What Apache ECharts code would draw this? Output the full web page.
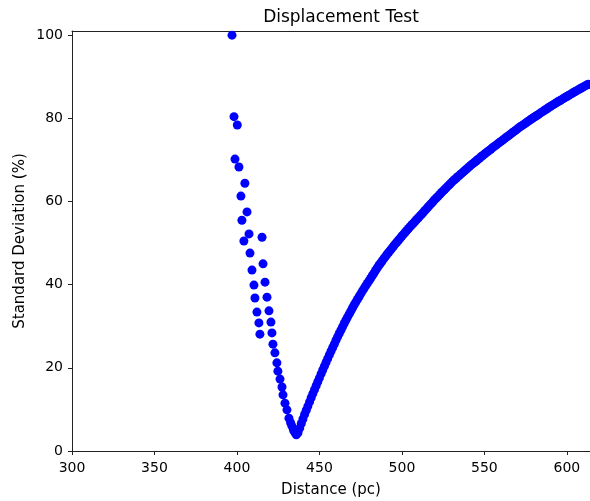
<!DOCTYPE html>
<html>
<head>
<meta charset="utf-8">
<script src="https://cdn.jsdelivr.net/npm/echarts@6/dist/echarts.min.js"></script>
<style>
html,body{margin:0;padding:0;background:#fff;}
#chart{width:590px;height:501px;}
</style>
</head>
<body>
<div id="chart"></div>
<script>
// Left (scattered) branch
var leftDist = [397.0, 398.2, 400.2, 398.8, 401.2, 404.8, 402.4, 406.1, 403.0, 407.3, 404.2, 415.2, 407.9, 415.8, 409.1, 417.0, 410.3, 418.2, 410.9, 419.4, 412.1, 420.6, 413.3, 421.2, 413.9, 421.8, 423.0, 424.2, 424.8, 426.1, 427.3, 427.9, 429.1, 430.3, 431.5, 432.5, 433.3, 434.3, 435.2, 436.0];
var leftStd  = [100.0, 80.4, 78.4, 70.2, 68.3, 64.4, 61.3, 57.5, 55.5, 52.2, 50.5, 51.4, 47.6, 45.0, 43.5, 40.6, 39.9, 37.0, 36.8, 33.7, 33.4, 31.0, 30.8, 28.4, 28.1, 25.7, 23.6, 21.2, 19.2, 17.3, 15.4, 13.5, 11.5, 9.9, 7.9, 6.8, 6.0, 5.0, 4.4, 3.9];

// Right (dense) branch
var rightDist = [437,438,439,440,441,442,443,444,445,446,447,448,449,450,451,452,453,454,455,456,457,458,459,460,461,462,463,464,465,466,467,468,469,470,471,472,473,474,475,476,477,478,479,480,481,482,483,484,485,486,487,488,489,490,491,492,493,494,495,496,497,498,499,500,501,502,503,504,505,506,507,508,509,510,511,512,513,514,515,516,517,518,519,520,521,522,523,524,525,526,527,528,529,530,531,532,533,534,535,536,537,538,539,540,541,542,543,544,545,546,547,548,549,550,551,552,553,554,555,556,557,558,559,560,561,562,563,564,565,566,567,568,569,570,571,572,573,574,575,576,577,578,579,580,581,582,583,584,585,586,587,588,589,590,591,592,593,594,595,596,597,598,599,600,601,602,603,604,605,606,607,608,609,610,611,612,613];
var rightStd = [4.4,5.5,6.6,7.7,8.8,9.8,10.8,11.8,12.8,13.8,14.75,15.7,16.65,17.6,18.55,19.47,20.4,21.3,22.2,23.1,24.0,24.85,25.7,26.6,27.45,28.25,29.05,29.85,30.65,31.45,32.2,32.9,33.65,34.4,35.1,35.8,36.45,37.1,37.8,38.45,39.05,39.7,40.3,40.9,41.5,42.15,42.75,43.4,44.0,44.6,45.15,45.7,46.25,46.75,47.3,47.8,48.3,48.8,49.3,49.8,50.25,50.75,51.2,51.7,52.15,52.6,53.05,53.5,53.95,54.4,54.8,55.25,55.7,56.1,56.55,56.95,57.4,57.85,58.3,58.75,59.2,59.6,60.05,60.5,60.9,61.3,61.7,62.15,62.55,62.95,63.35,63.75,64.15,64.55,64.95,65.3,65.65,66.0,66.35,66.7,67.05,67.4,67.75,68.1,68.45,68.8,69.1,69.45,69.75,70.1,70.4,70.75,71.05,71.4,71.7,72.0,72.3,72.6,72.95,73.25,73.55,73.85,74.15,74.45,74.75,75.05,75.35,75.65,75.95,76.25,76.55,76.85,77.15,77.45,77.75,78.05,78.3,78.6,78.85,79.15,79.4,79.7,79.95,80.25,80.5,80.75,81.0,81.3,81.55,81.8,82.05,82.3,82.6,82.85,83.1,83.35,83.6,83.85,84.1,84.3,84.55,84.8,85.05,85.25,85.5,85.75,85.95,86.2,86.45,86.65,86.9,87.1,87.35,87.55,87.8,88.0,88.2];

var xTicks = [300, 350, 400, 450, 500, 550, 600];
var yTicks = [0, 20, 40, 60, 80, 100];

var pts = [];
for (var i = 0; i < leftDist.length; i++) pts.push([leftDist[i], leftStd[i]]);
for (var j = 0; j < rightDist.length; j++) pts.push([rightDist[j], rightStd[j]]);

var FONT = 'DejaVu Sans';
var AX = '#222';
var chart = echarts.init(document.getElementById('chart'), null, {renderer: 'canvas'});
chart.setOption({
  animation: false,
  backgroundColor: '#ffffff',
  textStyle: {fontFamily: FONT, color: '#000'},
  title: {
    text: 'Displacement Test',
    left: 336, top: 4, textAlign: 'center',
    textStyle: {fontFamily: FONT, fontSize: 17, fontWeight: 'normal', color: '#000'}
  },
  grid: {left: 72, top: 31, right: 0, bottom: 50, containLabel: false, outerBoundsMode: 'none'},
  xAxis: [{
    type: 'value', min: 300, max: 614, interval: 50,
    name: 'Distance (pc)', nameLocation: 'middle', nameGap: 32,
    nameTextStyle: {fontFamily: FONT, fontSize: 15, color: '#000'},
    axisLine: {show: true, lineStyle: {color: AX, width: 1}},
    axisTick: {show: true, length: 4, inside: false, customValues: xTicks, lineStyle: {color: AX}},
    axisLabel: {customValues: xTicks, fontFamily: FONT, fontSize: 14, color: '#000', margin: 10},
    splitLine: {show: false}
  }, {
    type: 'value', position: 'top', min: 300, max: 614,
    axisLine: {show: true, lineStyle: {color: AX, width: 1}},
    axisTick: {show: false}, axisLabel: {show: false}, splitLine: {show: false}
  }],
  yAxis: {
    type: 'value', min: 0, max: 101, interval: 20,
    name: 'Standard Deviation (%)', nameLocation: 'middle', nameGap: 44, nameRotate: 90,
    nameMoveOverlap: false,
    nameTextStyle: {fontFamily: FONT, fontSize: 15, color: '#000'},
    axisLine: {show: true, lineStyle: {color: AX, width: 1}},
    axisTick: {show: true, length: 4, customValues: yTicks, lineStyle: {color: AX}},
    axisLabel: {customValues: yTicks, fontFamily: FONT, fontSize: 14, color: '#000', margin: 9},
    splitLine: {show: false}
  },
  series: [{
    type: 'scatter',
    xAxisIndex: 0,
    data: pts,
    symbol: 'circle',
    symbolSize: 9,
    itemStyle: {color: '#0000ff', opacity: 1},
    clip: false
  }]
});
</script>
</body>
</html>
